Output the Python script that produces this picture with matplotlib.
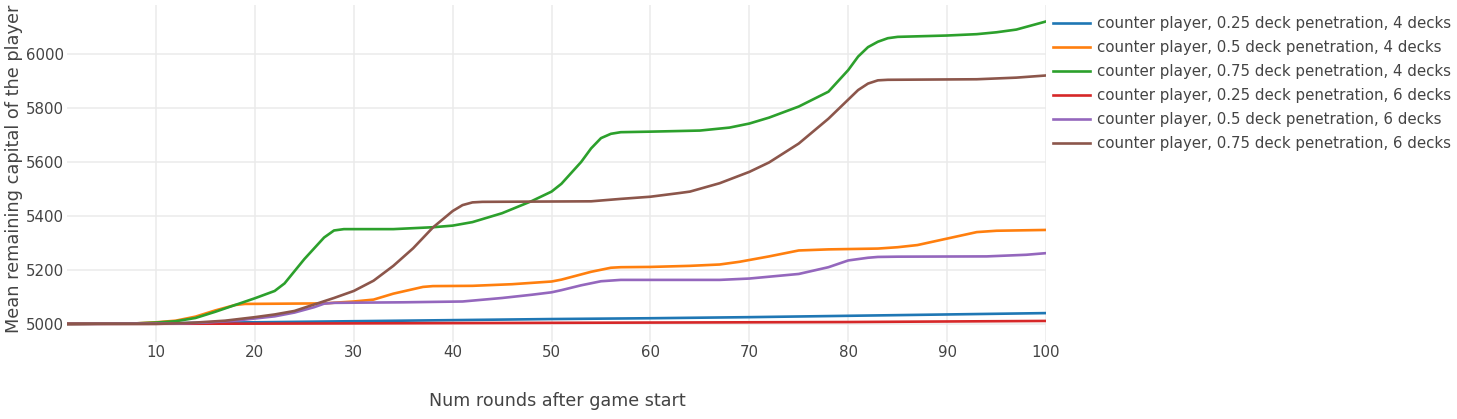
import matplotlib
matplotlib.use("Agg")
import matplotlib.pyplot as plt

plt.rcParams["font.family"] = ["DejaVu Sans"]

# values (round, mean capital)
x_025_4 = [1, 10, 20, 30, 40, 50, 60, 70, 80, 90, 100]
y_025_4 = [5000, 5002, 5006, 5010, 5014, 5018, 5021, 5025, 5030, 5035, 5040]

x_05_4 = [1, 8, 10, 12, 14, 16, 18, 19, 27, 30, 32, 34, 37, 38, 42, 46, 50,
          51, 54, 56, 57, 60, 64, 67, 69, 72, 75, 78, 83, 85, 87, 90, 93,
          95, 100]
y_05_4 = [5000, 5002, 5006, 5012, 5027, 5050, 5070, 5074, 5076, 5083, 5090,
          5112, 5137, 5140, 5141, 5147, 5157, 5164, 5193, 5208, 5210, 5211,
          5215, 5220, 5230, 5250, 5272, 5276, 5279, 5284, 5292, 5316, 5340,
          5345, 5348]

x_075_4 = [1, 8, 10, 12, 14, 16, 18, 20, 22, 23, 25, 27, 28, 29, 34, 38, 40,
           42, 45, 48, 50, 51, 53, 54, 55, 56, 57, 60, 65, 68, 70, 72, 75,
           78, 80, 81, 82, 83, 84, 85, 90, 93, 95, 97, 100]
y_075_4 = [5000, 5002, 5005, 5010, 5022, 5045, 5070, 5095, 5122, 5150, 5240,
           5320, 5346, 5351, 5351, 5358, 5364, 5377, 5410, 5455, 5490, 5519,
           5600, 5650, 5688, 5704, 5710, 5712, 5716, 5727, 5742, 5764, 5805,
           5860, 5940, 5990, 6025, 6045, 6058, 6063, 6068, 6073, 6080, 6090,
           6120]

x_025_6 = [1, 20, 30, 50, 60, 80, 90, 100]
y_025_6 = [5000, 5001, 5002, 5004, 5005, 5007, 5009, 5011]

x_05_6 = [1, 12, 15, 18, 20, 22, 24, 26, 27, 28, 35, 41, 45, 48, 50, 51, 53,
          55, 57, 67, 70, 75, 78, 80, 82, 83, 85, 94, 98, 100]
y_05_6 = [5000, 5001, 5005, 5012, 5020, 5028, 5042, 5062, 5075, 5078, 5080,
          5083, 5096, 5108, 5117, 5125, 5143, 5158, 5163, 5163, 5168, 5185,
          5210, 5235, 5245, 5248, 5249, 5250, 5256, 5262]

x_075_6 = [1, 10, 12, 14, 17, 20, 22, 24, 26, 28, 30, 32, 34, 36, 38, 40, 41,
           42, 43, 54, 57, 60, 63, 64, 67, 70, 72, 75, 78, 81, 82, 83, 84, 93,
           97, 100]
y_075_6 = [5000, 5000, 5002, 5005, 5012, 5025, 5035, 5048, 5072, 5096, 5122,
           5160, 5215, 5280, 5357, 5418, 5440, 5450, 5452, 5454, 5463, 5471,
           5485, 5490, 5521, 5563, 5598, 5668, 5760, 5866, 5890, 5902, 5904,
           5906, 5912, 5920]

labels = [
    "counter player, 0.25 deck penetration, 4 decks",
    "counter player, 0.5 deck penetration, 4 decks",
    "counter player, 0.75 deck penetration, 4 decks",
    "counter player, 0.25 deck penetration, 6 decks",
    "counter player, 0.5 deck penetration, 6 decks",
    "counter player, 0.75 deck penetration, 6 decks",
]
series = [(x_025_4, y_025_4), (x_05_4, y_05_4), (x_075_4, y_075_4),
          (x_025_6, y_025_6), (x_05_6, y_05_6), (x_075_6, y_075_6)]
colors = ["#1f77b4", "#ff7f0e", "#2ca02c", "#d62728", "#9467bd", "#8c564b"]

x_ticks = list(range(10, 101, 10))
y_ticks = list(range(5000, 6001, 200))

TXT = "#444444"

fig = plt.figure(figsize=(14.57, 4.19), dpi=100)
ax = fig.add_axes([67 / 1457, 1 - 342 / 419, 979 / 1457, 337 / 419])

for (xs, ys), lab, c in zip(series, labels, colors):
    ax.plot(xs, ys, color=c, lw=1.9, label=lab, solid_joinstyle="round")

ax.set_xlim(1, 100)
ax.set_ylim(4933, 6181)
ax.set_xticks(x_ticks)
ax.set_yticks(y_ticks)
ax.grid(True, color="#ebebeb", lw=1.1)
ax.set_axisbelow(True)
for s in ax.spines.values():
    s.set_visible(False)
ax.tick_params(length=0, labelsize=10.8, labelcolor=TXT, pad=2.5)

fig.text(557 / 1457, 1 - 401 / 419, "Num rounds after game start",
         ha="center", va="center", fontsize=12.6, color=TXT)
fig.text(14 / 1457, 1 - 169 / 419, "Mean remaining capital of the player",
         ha="center", va="center", rotation=90, fontsize=12.8, color=TXT)

leg = ax.legend(loc="upper left", bbox_to_anchor=(1053 / 1457, 1 - 16 / 419),
                bbox_transform=fig.transFigure, frameon=False,
                fontsize=10.8, handlelength=2.45, handletextpad=0.47,
                labelspacing=0.6, borderaxespad=0, borderpad=0)
for line in leg.get_lines():
    line.set_linewidth(1.9)
for t in leg.get_texts():
    t.set_color(TXT)

fig.savefig("out.png", dpi=100)
